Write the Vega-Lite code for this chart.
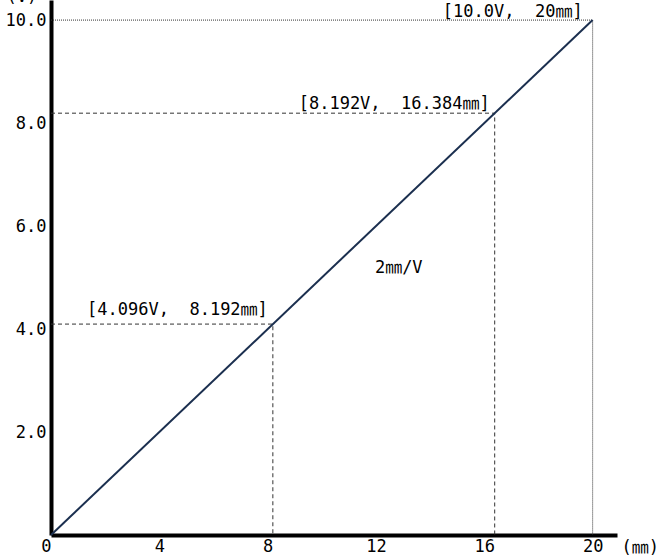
{
  "$schema": "https://vega.github.io/schema/vega-lite/v6.json",
  "autosize": "none",
  "width": 566,
  "height": 535,
  "padding": {"left": 51, "top": 0, "right": 44, "bottom": 25},
  "background": "white",
  "config": {
    "view": {"stroke": null},
    "font": "DejaVu Sans Mono, Noto Sans CJK JP",
    "axis": {"labelFont": "DejaVu Sans Mono, Noto Sans CJK JP", "titleFont": "DejaVu Sans Mono, Noto Sans CJK JP"}
  },
  "datasets": {
    "line": [{"x": 0, "y": 0}, {"x": 20, "y": 10}],
    "guides": [
      {"g": "a", "i": 0, "x": 0, "y": 4.096},
      {"g": "a", "i": 1, "x": 8.192, "y": 4.096},
      {"g": "a", "i": 2, "x": 8.192, "y": 0},
      {"g": "b", "i": 0, "x": 0, "y": 8.192},
      {"g": "b", "i": 1, "x": 16.384, "y": 8.192},
      {"g": "b", "i": 2, "x": 16.384, "y": 0},
      {"g": "c", "i": 0, "x": 0, "y": 10},
      {"g": "c", "i": 1, "x": 20, "y": 10},
      {"g": "c", "i": 2, "x": 20, "y": 0}
    ],
    "pts": [
      {"x": 8.192, "y": 4.096, "label": "[4.096V,\u00a0\u00a08.192㎜]"},
      {"x": 16.384, "y": 8.192, "label": "[8.192V,\u00a0\u00a016.384㎜]"},
      {"x": 20, "y": 10, "label": "[10.0V,\u00a0\u00a020㎜]"}
    ],
    "note": [{"x": 11.96, "y": 5.09, "label": "2㎜/V"}]
  },
  "layer": [
    {
      "data": {"name": "guides"},
      "transform": [{"filter": "datum.g != 'c'"}],
      "mark": {"type": "line", "color": "#333333", "strokeWidth": 1, "strokeDash": [4, 3]},
      "encoding": {
        "x": {"field": "x", "type": "quantitative", "scale": {"domain": [0, 20.9], "nice": false, "zero": false},
          "axis": {"values": [0, 4, 8, 12, 16, 20], "domainWidth": 4, "domainColor": "black", "ticks": false, "grid": false,
            "labelFontSize": 17, "labelColor": "black", "labelPadding": 3, "labelFlush": false,
            "labelAlign": {"condition": {"test": "datum.value == 0", "value": "right"}, "value": "center"},
            "title": "(㎜)", "titleFontSize": 17, "titleFontWeight": "normal", "titleColor": "black",
            "titleX": 570, "titleY": 17, "titleAlign": "left", "titleBaseline": "alphabetic", "titleAngle": 0}},
        "y": {"field": "y", "type": "quantitative", "scale": {"domain": [0, 10.39], "nice": false, "zero": false},
          "axis": {"values": [2, 4, 6, 8, 10], "domainWidth": 4, "domainColor": "black", "ticks": false, "grid": false,
            "labelFontSize": 17, "labelColor": "black", "labelPadding": 5, "labelBaseline": "middle",
            "labelExpr": "format(datum.value, '.1f')",
            "title": "(V)", "titleFontSize": 17, "titleFontWeight": "normal", "titleColor": "black",
            "titleX": -45, "titleY": 1, "titleAlign": "left", "titleBaseline": "alphabetic", "titleAngle": 0}},
        "detail": {"field": "g"},
        "order": {"field": "i"}
      }
    },
    {
      "data": {"name": "guides"},
      "transform": [{"filter": "datum.g == 'c'"}],
      "mark": {"type": "line", "color": "#333333", "strokeWidth": 1, "strokeDash": [1, 1]},
      "encoding": {
        "x": {"field": "x", "type": "quantitative"},
        "y": {"field": "y", "type": "quantitative"},
        "detail": {"field": "g"},
        "order": {"field": "i"}
      }
    },
    {
      "data": {"name": "line"},
      "mark": {"type": "line", "color": "#1b2f4f", "strokeWidth": 2},
      "encoding": {
        "x": {"field": "x", "type": "quantitative"},
        "y": {"field": "y", "type": "quantitative"}
      }
    },
    {
      "data": {"name": "pts"},
      "transform": [{"filter": "datum.y < 5"}],
      "mark": {"type": "text", "align": "right", "baseline": "alphabetic", "dx": -5, "dy": -9, "fontSize": 17, "color": "black"},
      "encoding": {
        "x": {"field": "x", "type": "quantitative"},
        "y": {"field": "y", "type": "quantitative"},
        "text": {"field": "label"}
      }
    },
    {
      "data": {"name": "pts"},
      "transform": [{"filter": "datum.y > 5 && datum.y < 9"}],
      "mark": {"type": "text", "align": "right", "baseline": "alphabetic", "dx": -5, "dy": -4, "fontSize": 17, "color": "black"},
      "encoding": {
        "x": {"field": "x", "type": "quantitative"},
        "y": {"field": "y", "type": "quantitative"},
        "text": {"field": "label"}
      }
    },
    {
      "data": {"name": "pts"},
      "transform": [{"filter": "datum.y > 9"}],
      "mark": {"type": "text", "align": "right", "baseline": "alphabetic", "dx": -10, "dy": -3, "fontSize": 17, "color": "black"},
      "encoding": {
        "x": {"field": "x", "type": "quantitative"},
        "y": {"field": "y", "type": "quantitative"},
        "text": {"field": "label"}
      }
    },
    {
      "data": {"name": "note"},
      "mark": {"type": "text", "align": "left", "baseline": "alphabetic", "fontSize": 17, "color": "black"},
      "encoding": {
        "x": {"field": "x", "type": "quantitative"},
        "y": {"field": "y", "type": "quantitative"},
        "text": {"field": "label"}
      }
    }
  ]
}
